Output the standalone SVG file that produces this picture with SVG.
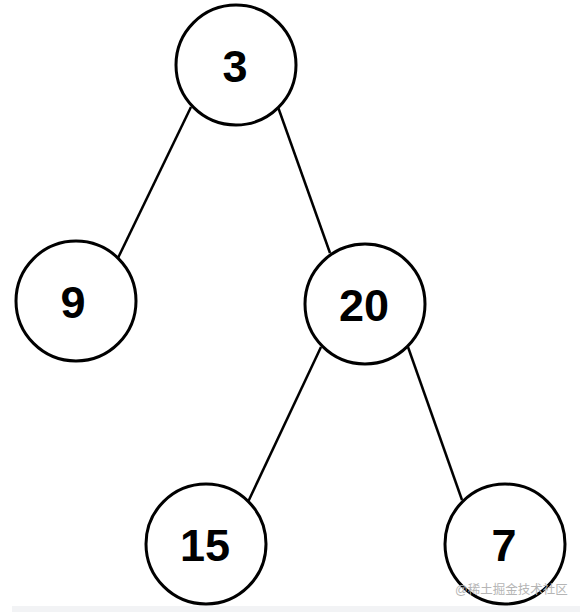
<svg xmlns="http://www.w3.org/2000/svg" width="580" height="612" viewBox="0 0 580 612">
<style>
.n circle{fill:#fff;stroke:#000;stroke-width:3}
.n text{font-family:"Liberation Sans",Arial,sans-serif;font-weight:bold;font-size:45px;fill:#000;text-anchor:middle;dominant-baseline:central}
.e line{stroke:#000;stroke-width:2.5}
.wm{font-family:"Liberation Sans","Noto Sans CJK SC",sans-serif;font-size:12.5px;fill:#b5b5b5}
</style>
<rect width="580" height="612" fill="#fff"/>
<rect x="12" y="606" width="568" height="6" fill="#f2f3f5"/>
<g id="connectors" class="e">
<line x1="191" y1="107" x2="118" y2="258"/>
<line x1="278" y1="107" x2="330" y2="253"/>
<line x1="321" y1="347" x2="248" y2="502"/>
<line x1="408" y1="347" x2="462" y2="500"/>
</g>
<g id="node3" class="n"><circle cx="236" cy="65" r="60"/><text x="235" y="66">3</text></g>
<g id="node9" class="n"><circle cx="76" cy="301" r="60"/><text x="73" y="302">9</text></g>
<g id="node20" class="n"><circle cx="365" cy="304" r="60"/><text x="364" y="305">20</text></g>
<g id="node15" class="n"><circle cx="206" cy="544" r="60"/><text x="205" y="545">15</text></g>
<g id="node7" class="n"><circle cx="505" cy="544" r="60"/><text x="504" y="545">7</text></g>
<text class="wm" x="455" y="594">@稀土掘金技术社区</text>
</svg>
